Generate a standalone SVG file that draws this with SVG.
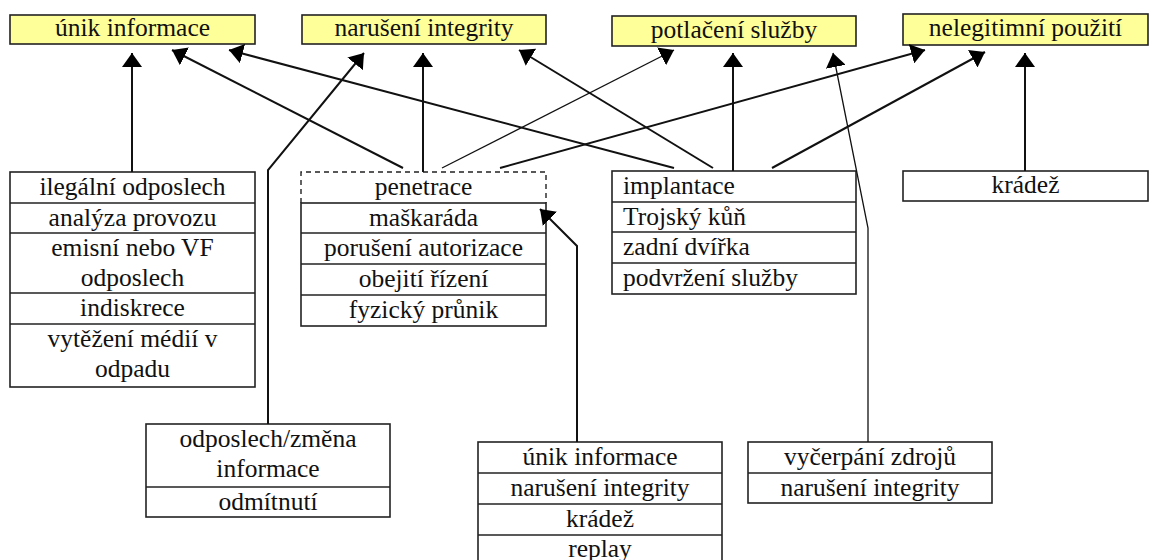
<svg xmlns="http://www.w3.org/2000/svg" width="1150" height="560" viewBox="0 0 1150 560">
  <style>
    .box { fill: #ffffff; stroke: #222222; stroke-width: 1.6; }
    .top { fill: #ffff99; }
    .div { stroke: #222222; stroke-width: 1.6; }
    .dash { stroke: #222222; stroke-width: 1.4; stroke-dasharray: 5 4; fill: none; }
    text { font-family: "Liberation Serif", Tinos, "DejaVu Serif", serif; font-size: 25.5px; fill: #111111; text-anchor: middle; }
    text.l { text-anchor: start; }
    .c { fill: none; stroke: #111111; stroke-width: 2; marker-end: url(#ah); }
    .thin { stroke-width: 1.3; }
  </style>
  <defs>
    <marker id="ah" markerUnits="userSpaceOnUse" viewBox="0 0 14 20" markerWidth="14" markerHeight="20" refX="14" refY="10" orient="auto">
      <path d="M0,0 L14,10 L0,20 z" fill="#000000"/>
    </marker>
  </defs>

  <rect width="1150" height="560" fill="#ffffff"/>

  <!-- threat categories -->
  <g id="unik-informace">
    <rect class="box top" x="10" y="15" width="245" height="29"/>
    <text x="132.5" y="36">únik informace</text>
  </g>
  <g id="naruseni-integrity">
    <rect class="box top" x="302" y="15" width="244" height="29"/>
    <text x="424" y="36">narušení integrity</text>
  </g>
  <g id="potlaceni-sluzby">
    <rect class="box top" x="612" y="16" width="244" height="30"/>
    <text x="734" y="38">potlačení služby</text>
  </g>
  <g id="nelegitimni-pouziti">
    <rect class="box top" x="903" y="14" width="245" height="31"/>
    <text x="1025.5" y="36">nelegitimní použití</text>
  </g>

  <!-- eavesdropping group -->
  <g id="odposlech">
    <rect class="box" x="10" y="172" width="245" height="215"/>
    <line class="div" x1="10" y1="203" x2="255" y2="203"/>
    <line class="div" x1="10" y1="233" x2="255" y2="233"/>
    <line class="div" x1="10" y1="293" x2="255" y2="293"/>
    <line class="div" x1="10" y1="324" x2="255" y2="324"/>
    <text x="132.5" y="195">ilegální  odposlech</text>
    <text x="132.5" y="226">analýza provozu</text>
    <text x="132.5" y="256">emisní nebo VF</text>
    <text x="132.5" y="286">odposlech</text>
    <text x="132.5" y="316">indiskrece</text>
    <text x="132.5" y="347">vytěžení médií v</text>
    <text x="132.5" y="377">odpadu</text>
  </g>

  <!-- penetration group (first row drawn dashed) -->
  <g id="penetrace">
    <path class="dash" d="M301,203 L301,172 L546,172 L546,203"/>
    <rect class="box" x="301" y="203" width="245" height="123"/>
    <line class="div" x1="301" y1="233" x2="546" y2="233"/>
    <line class="div" x1="301" y1="264" x2="546" y2="264"/>
    <line class="div" x1="301" y1="295" x2="546" y2="295"/>
    <text x="423.5" y="195">penetrace</text>
    <text x="423.5" y="226">maškaráda</text>
    <text x="423.5" y="256">porušení autorizace</text>
    <text x="423.5" y="287">obejití řízení</text>
    <text x="423.5" y="318">fyzický průnik</text>
  </g>

  <!-- planting group -->
  <g id="implantace">
    <rect class="box" x="612" y="171" width="244" height="123"/>
    <line class="div" x1="612" y1="202" x2="856" y2="202"/>
    <line class="div" x1="612" y1="232" x2="856" y2="232"/>
    <line class="div" x1="612" y1="263" x2="856" y2="263"/>
    <text class="l" x="623" y="194">implantace</text>
    <text class="l" x="623" y="225">Trojský  kůň</text>
    <text class="l" x="623" y="255">zadní dvířka</text>
    <text class="l" x="623" y="286">podvržení služby</text>
  </g>

  <g id="kradez">
    <rect class="box" x="903" y="171" width="245" height="30"/>
    <text x="1025.5" y="193">krádež</text>
  </g>

  <!-- lower groups -->
  <g id="odposlech-zmena">
    <rect class="box" x="146" y="424" width="244" height="93"/>
    <line class="div" x1="146" y1="487" x2="390" y2="487"/>
    <text x="268" y="447">odposlech/změna</text>
    <text x="268" y="477">informace</text>
    <text x="268" y="510">odmítnutí</text>
  </g>

  <g id="replay">
    <rect class="box" x="478" y="442" width="244" height="124"/>
    <line class="div" x1="478" y1="473" x2="722" y2="473"/>
    <line class="div" x1="478" y1="504" x2="722" y2="504"/>
    <line class="div" x1="478" y1="535" x2="722" y2="535"/>
    <text x="600" y="465">únik informace</text>
    <text x="600" y="496">narušení integrity</text>
    <text x="600" y="527">krádež</text>
    <text x="600" y="557">replay</text>
  </g>

  <g id="vycerpani-zdroju">
    <rect class="box" x="748" y="442" width="244" height="61"/>
    <line class="div" x1="748" y1="473" x2="992" y2="473"/>
    <text x="870" y="465">vyčerpání zdrojů</text>
    <text x="870" y="496">narušení integrity</text>
  </g>

  <!-- connectors -->
  <g id="connectors">
    <path class="c" d="M132,172 L132,53"/>
    <path class="c" d="M403,168 L172,50"/>
    <path class="c" d="M674,168 L229,50"/>
    <path class="c" d="M268,424 L268,170 L364,53"/>
    <path class="c" d="M423,172 L423,53"/>
    <path class="c" d="M713,168 L519,50"/>
    <path class="c thin" d="M442,168 L674,50"/>
    <path class="c" d="M733,171 L733,53"/>
    <path class="c thin" d="M868,442 L868,228 L833,53"/>
    <path class="c" d="M500,168 L925,50"/>
    <path class="c" d="M772,168 L985,52"/>
    <path class="c" d="M1025,171 L1025,53"/>
    <path class="c" d="M577,442 L577,246 L540,209"/>
  </g>
</svg>
